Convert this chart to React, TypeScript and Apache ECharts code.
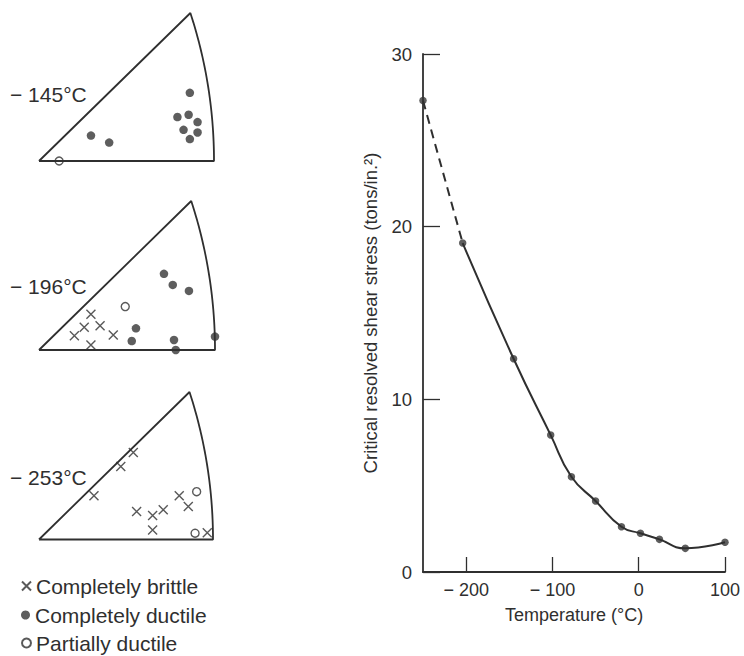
import React, { useEffect, useRef } from "react";
import * as echarts from "echarts";

// ---- Main chart data (Temperature °C vs critical resolved shear stress, tons/in.²)
const temperatures = [-250, -204, -145, -102, -78, -50, -20, 2, 24, 54, 100];
const stresses = [27.3, 19.05, 12.35, 7.93, 5.52, 4.11, 2.62, 2.24, 1.89, 1.37, 1.72];
const xTickValues = [-200, -100, 0, 100];
const yTickValues = [0, 10, 20, 30];

// ---- Stereographic triangles (coordinates in triangle units, base = 1)
const triangleLabels = ["\u2212 145\u00B0C", "\u2212 196\u00B0C", "\u2212 253\u00B0C"];

const t145Brittle: number[][] = [];
const t145Ductile = [
  [0.297, 0.145], [0.401, 0.105], [0.862, 0.389], [0.791, 0.251], [0.855, 0.264],
  [0.906, 0.222], [0.826, 0.178], [0.906, 0.163], [0.862, 0.125],
];
const t145Partial = [[0.115, 0.0]];

const t196Brittle = [
  [0.295, 0.203], [0.257, 0.129], [0.347, 0.138], [0.201, 0.081], [0.422, 0.085], [0.295, 0.028],
];
const t196Ductile = [
  [0.71, 0.432], [0.76, 0.369], [0.852, 0.335], [0.551, 0.123], [0.527, 0.051],
  [0.767, 0.057], [0.777, 0.0], [1.0, 0.076],
];
const t196Partial = [[0.49, 0.246]];

const t253Brittle = [
  [0.542, 0.499], [0.47, 0.418], [0.316, 0.25], [0.561, 0.16], [0.653, 0.137],
  [0.714, 0.17], [0.806, 0.25], [0.858, 0.189], [0.653, 0.055], [0.967, 0.039],
];
const t253Ductile: number[][] = [];
const t253Partial = [[0.906, 0.274], [0.897, 0.036]];

const legendNames = ["Completely brittle", "Completely ductile", "Partially ductile"];

const INK = "#2f2f2f";
const FONT = "'Liberation Sans', Arial, Helvetica, sans-serif";
const CROSS = "path://M0,0L10,10M0,10L10,0";

const TOP_U = 0.865;
const TOP_V = 0.845;

function outline(): number[][] {
  const d = 1 - TOP_U;
  const R = (d * d + TOP_V * TOP_V) / (2 * d);
  const pts: number[][] = [[0, 0], [TOP_U, TOP_V]];
  const n = 30;
  for (let i = 1; i <= n; i++) {
    const v = TOP_V * (1 - i / n);
    pts.push([1 - R + Math.sqrt(R * R - v * v), v]);
  }
  pts.push([0, 0]);
  return pts;
}

export default function App() {
  const ref = useRef<HTMLDivElement>(null);

  useEffect(() => {
    if (!ref.current) return;
    const chart = echarts.init(ref.current, undefined, { renderer: "svg" });

    const triGrids = [
      { left: 39, top: 13, width: 175, height: 148 },
      { left: 39, top: 201, width: 176, height: 149 },
      { left: 39, top: 392, width: 174, height: 147.5 },
    ];
    const triData = [
      [t145Brittle, t145Ductile, t145Partial],
      [t196Brittle, t196Ductile, t196Partial],
      [t253Brittle, t253Ductile, t253Partial],
    ];

    const grids: any[] = [{ left: 423, right: 19, top: 54, bottom: 84 }, ...triGrids];

    const xAxes: any[] = [
      {
        type: "value",
        gridIndex: 0,
        min: -250,
        max: 100,
        splitLine: { show: false },
        axisLine: { show: true, onZero: false, lineStyle: { color: INK, width: 1.8 } },
        axisTick: { show: true, inside: true, length: 15, customValues: xTickValues, lineStyle: { color: INK, width: 1.3 } },
        axisLabel: {
          customValues: xTickValues,
          margin: 9,
          color: INK,
          fontSize: 18,
          fontFamily: FONT,
          formatter: (v: number) => (v < 0 ? "\u2212 " + Math.abs(v) : String(v)),
        },
        name: "Temperature (\u00B0C)",
        nameLocation: "middle",
        nameGap: 34,
        nameTextStyle: { color: INK, fontSize: 18, fontFamily: FONT },
      },
    ];
    const yAxes: any[] = [
      {
        type: "value",
        gridIndex: 0,
        min: 0,
        max: 30,
        interval: 10,
        splitLine: { show: false },
        axisLine: { show: true, onZero: false, lineStyle: { color: INK, width: 1.8 } },
        axisTick: { show: true, inside: true, length: 17, customValues: yTickValues, lineStyle: { color: INK, width: 1.3 } },
        axisLabel: { customValues: yTickValues, margin: 11, color: INK, fontSize: 18.5, fontFamily: FONT },
        name: "Critical resolved shear stress (tons/in.\u00B2)",
        nameLocation: "middle",
        nameGap: 43,
        nameTextStyle: { color: INK, fontSize: 18.5, fontFamily: FONT },
      },
    ];
    triGrids.forEach((_, i) => {
      xAxes.push({ type: "value", gridIndex: i + 1, min: 0, max: 1, show: false });
      yAxes.push({ type: "value", gridIndex: i + 1, min: 0, max: TOP_V, show: false });
    });

    const mainPoints = temperatures.map((t, i) => [t, stresses[i]]);

    const series: any[] = [
      {
        type: "line",
        xAxisIndex: 0,
        yAxisIndex: 0,
        data: mainPoints.slice(0, 2),
        symbol: "none",
        lineStyle: { color: INK, width: 2, type: [9, 6] },
        clip: false,
        silent: true,
      },
      {
        type: "line",
        xAxisIndex: 0,
        yAxisIndex: 0,
        data: mainPoints.slice(1),
        symbol: "none",
        smooth: 0.5,
        lineStyle: { color: INK, width: 2 },
        clip: false,
        silent: true,
      },
      {
        type: "scatter",
        xAxisIndex: 0,
        yAxisIndex: 0,
        data: mainPoints,
        symbol: "circle",
        symbolSize: 7.5,
        itemStyle: { color: "#363636" },
        clip: false,
        silent: true,
      },
    ];

    const shape = outline();
    triData.forEach((sets, i) => {
      const idx = i + 1;
      series.push({
        type: "line",
        xAxisIndex: idx,
        yAxisIndex: idx,
        data: shape,
        symbol: "none",
        lineStyle: { color: INK, width: 1.8 },
        clip: false,
        silent: true,
      });
      series.push({
        name: legendNames[0],
        type: "scatter",
        xAxisIndex: idx,
        yAxisIndex: idx,
        data: sets[0],
        symbol: CROSS,
        symbolSize: 9,
        itemStyle: { color: "transparent", borderColor: INK, borderWidth: 1.4 },
        clip: false,
        silent: true,
      });
      series.push({
        name: legendNames[1],
        type: "scatter",
        xAxisIndex: idx,
        yAxisIndex: idx,
        data: sets[1],
        symbol: "circle",
        symbolSize: 8.5,
        itemStyle: { color: "#363636" },
        clip: false,
        silent: true,
      });
      series.push({
        name: legendNames[2],
        type: "scatter",
        xAxisIndex: idx,
        yAxisIndex: idx,
        data: sets[2],
        symbol: "circle",
        symbolSize: 8,
        itemStyle: { color: "#ffffff", borderColor: INK, borderWidth: 1.4 },
        clip: false,
        silent: true,
      });
    });

    const labelY = [94, 286, 477];
    const legendCenters = [586, 615, 643];

    chart.setOption({
      animation: false,
      backgroundColor: "#ffffff",
      grid: grids,
      xAxis: xAxes,
      yAxis: yAxes,
      series,
      legend: legendNames.map((n, i) => ({
        data: [n],
        orient: "vertical",
        left: 21,
        top: legendCenters[i] - 10.5,
        itemWidth: 9,
        itemHeight: 9,
        selectedMode: false,
        padding: 0,
        textStyle: { color: INK, fontSize: 21, fontFamily: FONT, lineHeight: 21 },
      })),
      graphic: triangleLabels.map((t, i) => ({
        type: "text",
        x: 10,
        y: labelY[i],
        style: {
          text: t,
          fill: INK,
          fontSize: 21,
          fontFamily: FONT,
          verticalAlign: "middle",
        },
      })),
    });

    return () => chart.dispose();
  }, []);

  return (
    <div
      ref={ref}
      style={{ position: "fixed", left: 0, top: 0, width: 744, height: 656, background: "#fff" }}
    />
  );
}
